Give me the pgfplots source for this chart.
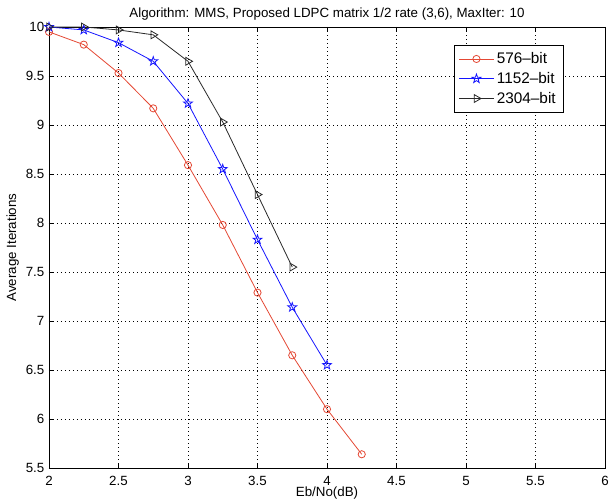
\documentclass[border=0pt]{standalone}
\usepackage{pgfplots}
\pgfplotsset{compat=1.18}
\usepackage{fontspec}
\setmainfont{Liberation Sans}
\definecolor{mred}{RGB}{228,72,52}
\definecolor{mblue}{RGB}{20,20,255}
\definecolor{mgray}{RGB}{40,40,40}
\pgfdeclareplotmark{pentagram}{%
  \pgfpathmoveto{\pgfpointpolar{90}{\pgfplotmarksize}}%
  \pgfpathlineto{\pgfpointpolar{126}{0.40\pgfplotmarksize}}%
  \pgfpathlineto{\pgfpointpolar{162}{\pgfplotmarksize}}%
  \pgfpathlineto{\pgfpointpolar{198}{0.40\pgfplotmarksize}}%
  \pgfpathlineto{\pgfpointpolar{234}{\pgfplotmarksize}}%
  \pgfpathlineto{\pgfpointpolar{270}{0.40\pgfplotmarksize}}%
  \pgfpathlineto{\pgfpointpolar{306}{\pgfplotmarksize}}%
  \pgfpathlineto{\pgfpointpolar{342}{0.40\pgfplotmarksize}}%
  \pgfpathlineto{\pgfpointpolar{18}{\pgfplotmarksize}}%
  \pgfpathlineto{\pgfpointpolar{54}{0.40\pgfplotmarksize}}%
  \pgfpathclose
  \pgfusepathqstroke
}
\pgfplotsset{every axis title/.style={at={(0.5,1.0295)}, anchor=center, font=\fontsize{10}{12}\selectfont}}
\begin{document}
\begin{tikzpicture}
\begin{axis}[
  scale only axis,
  width=417pt, height=330.75pt,
  xmin=2, xmax=6, ymin=5.5, ymax=10,
  xtick={2,2.5,...,6}, ytick={5.5,6,...,10},
  xticklabels={2,2.5,3,3.5,4,4.5,5,5.5,6},
  yticklabels={5.5,6,6.5,7,7.5,8,8.5,9,9.5,10},
  tick align=inside, tick pos=both,
  major tick length=4pt,
  grid=major,
  major grid style={black, line width=0.4pt, dash pattern=on 1pt off 2pt},
  axis line style={black, line width=0.7pt},
  tick style={black, line width=0.5pt},
  ticklabel style={font=\fontsize{10}{12}\selectfont},
  xticklabel style={yshift=-2.5pt},
  /pgf/number format/assume math mode=true,
  title={Algorithm: MMS, Proposed LDPC matrix 1/2 rate (3,6), MaxIter: 10},
  xlabel={Eb/No(dB)},
  ylabel={Average Iterations},
  label style={font=\fontsize{10}{12}\selectfont},
  xlabel style={at={(axis description cs:0.5,-0.0567)}, anchor=center},
  ylabel style={at={(axis description cs:-0.0655,0.5)}, anchor=center, rotate=0},
  legend style={at={(0.9245,0.959)}, anchor=north east, draw=black, line width=0.6pt,
    font=\fontsize{11.5}{13.8}\selectfont, row sep=1pt, inner sep=3.5pt, outer sep=0pt},
  legend cell align=left,
  legend image code/.code={%
    \draw[mark repeat=2,mark phase=2] plot coordinates {(0pt,0pt) (13pt,0pt) (26pt,0pt)};},
]
\addplot[mred, line width=0.6pt, mark=o, mark size=2.7pt, mark options={solid, fill=none}]
  coordinates {(2,9.95) (2.25,9.82) (2.5,9.53) (2.75,9.17) (3,8.59) (3.25,7.98) (3.5,7.29) (3.75,6.65) (4,6.10) (4.25,5.64)};
\addlegendentry{576--bit}
\addplot[mblue, line width=0.6pt, mark=pentagram, mark size=3.5pt, mark options={solid}]
  coordinates {(2,10) (2.25,9.97) (2.5,9.84) (2.75,9.65) (3,9.22) (3.25,8.55) (3.5,7.83) (3.75,7.14) (4,6.55)};
\addlegendentry{1152--bit}
\addplot[mgray, line width=0.6pt, mark=triangle, mark size=3.4pt, mark options={solid, fill=none, rotate=-90}]
  coordinates {(2,10) (2.25,10.0) (2.5,9.97) (2.75,9.92) (3,9.65) (3.25,9.03) (3.5,8.29) (3.75,7.55)};
\addlegendentry{2304--bit}
\coordinate (sw) at (rel axis cs:0,0);
\coordinate (ne) at (rel axis cs:1,1);
\end{axis}
\pgfresetboundingbox
\path[use as bounding box] ([shift={(-36.75pt,-24.75pt)}]sw) rectangle ([shift={(3.75pt,20.25pt)}]ne);
\end{tikzpicture}
\end{document}
